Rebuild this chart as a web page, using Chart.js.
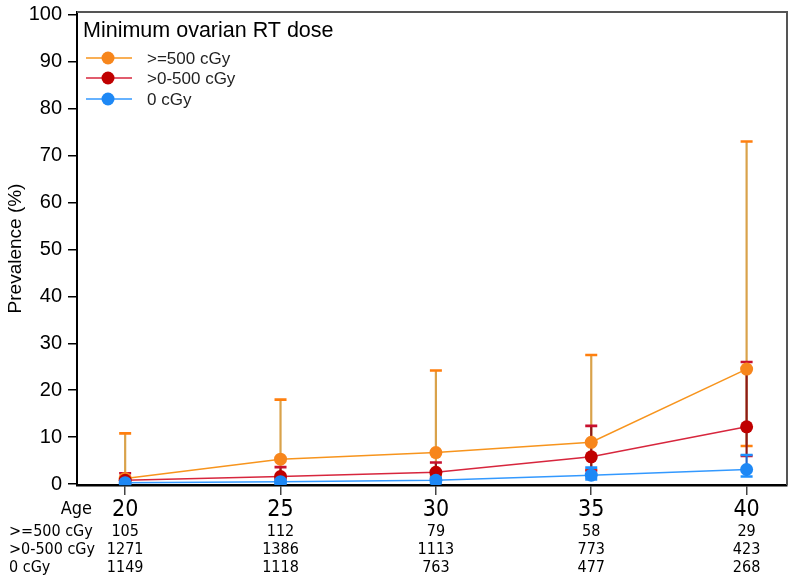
<!DOCTYPE html>
<html>
<head>
<meta charset="utf-8">
<script src="https://cdn.jsdelivr.net/npm/chart.js@4.4.1/dist/chart.umd.min.js"></script>
<style>
html,body{margin:0;padding:0;background:#fff;}
canvas{display:block;}
</style>
</head>
<body>
<canvas id="c" width="800" height="586"></canvas>
<script>
// ---- data ----
const ages = [20, 25, 30, 35, 40];
const seriesLabels = [">=500 cGy", ">0-500 cGy", "0 cGy"];
const high500 = [1.2, 5.3, 6.7, 8.9, 24.5];
const high500Low = [0.2, 1.5, 1.8, 3.0, 8.1];
const high500Up = [10.8, 18.0, 24.2, 27.5, 73.0];
const mid = [0.8, 1.6, 2.5, 5.8, 12.2];
const midLow = [0.3, 0.7, 1.2, 2.9, 6.0];
const midUp = [2.3, 3.6, 4.6, 12.4, 26.0];
const zero = [0.3, 0.5, 0.8, 1.9, 3.1];
const zeroLow = [0.0, 0.1, 0.2, 1.0, 1.6];
const zeroUp = [0.8, 1.1, 1.4, 3.5, 6.2];
const yTicks = [0, 10, 20, 30, 40, 50, 60, 70, 80, 90, 100];
const nHigh = [105, 112, 79, 58, 29];
const nMid = [1271, 1386, 1113, 773, 423];
const nZero = [1149, 1118, 763, 477, 268];

const FONT = "'Liberation Sans', Arial, sans-serif";
const NARROW = "'Liberation Sans Narrow', 'Arial Narrow', 'DejaVu Sans Condensed', 'Liberation Sans', sans-serif";

const styles = [
  {line:'#F7941D', point:'#F7861C', bar:'#D9A24A', cap:'#FF7F0E', order:2},
  {line:'#D7263D', point:'#C00000', bar:'#8B1A1A', cap:'#C8102E', order:1},
  {line:'#3399FF', point:'#1E88F5', bar:'#2266CC', cap:'#1E90FF', order:0}
];
const values = [high500, mid, zero];
const lows = [high500Low, midLow, zeroLow];
const ups = [high500Up, midUp, zeroUp];
const counts = [nHigh, nMid, nZero];

const datasets = values.map((v, i) => ({
  label: seriesLabels[i],
  data: ages.map((a, j) => ({x: a, y: v[j]})),
  borderColor: styles[i].line,
  backgroundColor: styles[i].point,
  pointBackgroundColor: styles[i].point,
  pointBorderColor: styles[i].point,
  pointRadius: 6.5,
  pointBorderWidth: 0,
  borderWidth: 1.5,
  tension: 0,
  order: styles[i].order,
  errLow: lows[i],
  errUp: ups[i],
  barColor: styles[i].bar,
  capColor: styles[i].cap
}));

const errorBars = {
  id: 'errorBars',
  beforeDatasetsDraw(chart) {
    const ctx = chart.ctx, xs = chart.scales.x, ys = chart.scales.y;
    ctx.save();
    [0, 1, 2].forEach(i => {
      const ds = chart.data.datasets[i];
      ages.forEach((a, j) => {
        const x = xs.getPixelForValue(a);
        const yl = ys.getPixelForValue(ds.errLow[j]);
        const yu = ys.getPixelForValue(ds.errUp[j]);
        ctx.strokeStyle = ds.barColor;
        ctx.lineWidth = 2.2;
        ctx.beginPath(); ctx.moveTo(x, yl); ctx.lineTo(x, yu); ctx.stroke();
        ctx.strokeStyle = ds.capColor;
        ctx.lineWidth = 2.6;
        ctx.beginPath();
        ctx.moveTo(x - 6, yu); ctx.lineTo(x + 6, yu);
        ctx.moveTo(x - 6, yl); ctx.lineTo(x + 6, yl);
        ctx.stroke();
      });
    });
    ctx.restore();
  }
};

const decor = {
  id: 'decor',
  afterDraw(chart) {
    const ctx = chart.ctx, ca = chart.chartArea, xs = chart.scales.x;
    ctx.save();
    ctx.strokeStyle = '#555';
    ctx.lineWidth = 2;
    ctx.beginPath();
    ctx.moveTo(ca.left, ca.top); ctx.lineTo(ca.right, ca.top); ctx.lineTo(ca.right, ca.bottom);
    ctx.stroke();
    // legend
    ctx.fillStyle = '#000';
    ctx.textBaseline = 'middle';
    ctx.textAlign = 'left';
    ctx.font = '21.5px ' + FONT;
    ctx.fillText('Minimum ovarian RT dose', 83, 31);
    ctx.font = '17px ' + FONT;
    const ly = [58, 78, 99];
    chart.data.datasets.forEach((ds, i) => {
      ctx.strokeStyle = ds.borderColor;
      ctx.lineWidth = 1.4;
      ctx.beginPath(); ctx.moveTo(86, ly[i]); ctx.lineTo(132, ly[i]); ctx.stroke();
      ctx.fillStyle = ds.pointBackgroundColor;
      ctx.beginPath(); ctx.arc(108, ly[i], 6.5, 0, Math.PI * 2); ctx.fill();
      ctx.fillStyle = '#222';
      ctx.fillText(ds.label, 147, ly[i] + 1);
    });
    // bottom table
    ctx.fillStyle = '#000';
    ctx.font = '18px ' + NARROW;
    ctx.textAlign = 'right';
    ctx.fillText('Age', 92, 509);
    ctx.font = '16px ' + NARROW;
    const rowY = [532, 550, 568];
    seriesLabels.forEach((lab, r) => {
      ctx.textAlign = 'left';
      ctx.fillText(lab, 9, rowY[r]);
      ctx.textAlign = 'center';
      ages.forEach((a, j) => {
        ctx.fillText(String(counts[r][j]), xs.getPixelForValue(a), rowY[r]);
      });
    });
    ctx.restore();
  }
};

new Chart(document.getElementById('c'), {
  type: 'line',
  data: { datasets },
  plugins: [errorBars, decor],
  options: {
    responsive: false,
    animation: false,
    devicePixelRatio: 1,
    layout: { padding: { left: 0, right: 13, top: 12, bottom: 0 } },
    plugins: { legend: { display: false }, tooltip: { enabled: false } },
    scales: {
      x: {
        type: 'linear',
        min: 18.45,
        max: 41.3,
        afterBuildTicks(s) { s.ticks = ages.map(v => ({value: v})); },
        afterFit(s) { s.height = 101; },
        ticks: { color: '#000', font: { family: NARROW, size: 23 }, padding: 1, maxRotation: 0 },
        grid: { drawOnChartArea: false, drawTicks: true, tickLength: 10, color: '#444', lineWidth: 1.5 },
        border: { color: '#000', width: 2.5 }
      },
      y: {
        min: -0.2,
        max: 100.6,
        afterBuildTicks(s) { s.ticks = yTicks.map(v => ({value: v})); },
        afterFit(s) { s.width = 77; s.paddingTop = 0; s.paddingBottom = 0; },
        ticks: { color: '#000', font: { family: FONT, size: 20, lineHeight: 1 }, padding: 6 },
        title: { display: true, text: 'Prevalence (%)', color: '#000', font: { family: FONT, size: 19 }, padding: { top: 4, bottom: 0 } },
        grid: { drawOnChartArea: false, drawTicks: true, tickLength: 9, color: '#000', lineWidth: 1.5 },
        border: { color: '#000', width: 2 }
      }
    }
  }
});
</script>
</body>
</html>
